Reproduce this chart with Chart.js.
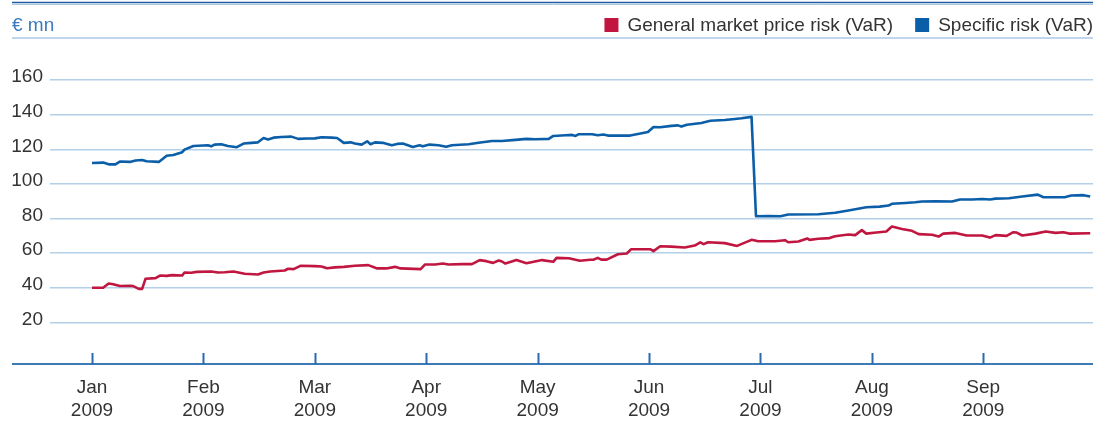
<!DOCTYPE html>
<html>
<head>
<meta charset="utf-8">
<script src="https://cdn.jsdelivr.net/npm/chart.js@4.4.0/dist/chart.umd.min.js"></script>
<style>
  html, body { margin: 0; padding: 0; background: #ffffff; }
  canvas { display: block; }
</style>
</head>
<body>
<canvas id="c" width="1105" height="423"></canvas>
<script>
// ---- data (x = position in months from start of January 2009) ----
const monthNames = ["Jan", "Feb", "Mar", "Apr", "May", "Jun", "Jul", "Aug", "Sep"];
const monthYears = ["2009", "2009", "2009", "2009", "2009", "2009", "2009", "2009", "2009"];
const yTickValues = [20, 40, 60, 80, 100, 120, 140, 160];
const unitLabel = "€ mn";
const seriesNames = ["General market price risk (VaR)", "Specific risk (VaR)"];

const generalX = [0.00,0.10,0.15,0.19,0.25,0.34,0.37,0.42,0.45,0.48,0.57,0.61,0.67,0.72,0.81,0.83,0.89,0.94,1.07,1.13,1.19,1.27,1.37,1.49,1.54,1.60,1.73,1.76,1.81,1.87,2.00,2.06,2.11,2.18,2.26,2.36,2.48,2.56,2.64,2.72,2.77,2.95,2.99,3.08,3.15,3.20,3.32,3.41,3.48,3.54,3.60,3.65,3.68,3.71,3.81,3.90,4.04,4.14,4.17,4.28,4.32,4.38,4.47,4.50,4.54,4.57,4.62,4.72,4.80,4.84,5.01,5.04,5.10,5.20,5.32,5.41,5.46,5.49,5.53,5.68,5.79,5.92,5.98,6.13,6.22,6.25,6.34,6.42,6.44,6.52,6.62,6.67,6.79,6.85,6.91,6.95,7.04,7.13,7.18,7.27,7.36,7.42,7.54,7.60,7.64,7.75,7.85,7.99,8.06,8.11,8.21,8.27,8.30,8.35,8.47,8.56,8.65,8.72,8.77,8.96];
const generalY = [40.0,40.0,42.5,42.1,41.0,41.2,41.0,39.4,39.4,45.2,45.6,47.1,46.9,47.3,47.1,48.8,48.7,49.2,49.4,48.8,49.0,49.4,48.1,47.7,48.8,49.4,50.0,51.0,50.8,52.7,52.5,52.3,51.3,51.8,52.1,52.7,53.1,51.2,51.2,52.1,51.2,50.8,53.5,53.5,54.0,53.5,53.7,53.7,56.0,55.4,54.4,55.8,55.2,54.0,56.0,54.2,56.0,55.0,57.3,57.1,56.5,55.6,56.2,56.2,57.3,56.3,56.3,59.4,59.8,62.3,62.3,61.2,64.0,63.8,63.3,64.4,66.2,65.2,66.3,65.8,64.2,67.7,66.9,66.9,67.5,66.3,66.7,68.5,67.7,68.3,68.7,69.8,70.8,70.4,73.3,71.3,71.9,72.5,75.4,74.0,72.9,71.0,70.6,69.6,71.3,71.7,70.2,70.2,69.0,70.4,70.0,72.1,71.9,70.2,71.3,72.5,71.7,72.1,71.3,71.5];

const specificX = [0.00,0.10,0.15,0.21,0.25,0.34,0.39,0.45,0.49,0.60,0.67,0.73,0.81,0.83,0.91,1.04,1.07,1.10,1.16,1.22,1.30,1.36,1.43,1.49,1.54,1.58,1.63,1.70,1.79,1.85,1.93,2.00,2.06,2.15,2.20,2.26,2.32,2.36,2.42,2.47,2.50,2.54,2.61,2.69,2.74,2.79,2.88,2.94,2.97,3.03,3.11,3.18,3.23,3.38,3.47,3.59,3.68,3.80,3.90,3.98,4.10,4.14,4.25,4.31,4.34,4.37,4.49,4.54,4.59,4.63,4.83,4.90,4.99,5.04,5.10,5.20,5.26,5.29,5.34,5.47,5.55,5.68,5.77,5.83,5.92,5.96,6.07,6.18,6.25,6.52,6.67,6.79,6.95,7.07,7.15,7.18,7.30,7.39,7.45,7.57,7.72,7.79,7.90,7.99,8.06,8.11,8.23,8.35,8.49,8.54,8.73,8.79,8.90,8.96];
const specificY = [112.1,112.3,111.3,111.3,112.9,112.7,113.5,113.8,113.1,112.7,116.3,116.7,118.3,119.8,121.9,122.3,121.7,122.7,122.9,121.9,121.2,123.3,123.7,124.0,126.5,125.6,126.7,127.1,127.3,126.0,126.2,126.3,126.9,126.7,126.5,123.7,124.0,123.3,122.7,124.6,122.9,124.0,123.7,122.3,123.1,123.3,121.3,122.3,121.7,122.7,122.3,121.5,122.3,122.9,123.8,124.8,124.8,125.4,126.0,125.8,126.0,127.7,128.1,128.3,127.7,128.7,128.7,128.1,128.5,127.9,127.9,128.8,130.0,132.9,132.7,133.5,133.8,133.1,134.2,135.2,136.5,136.9,137.5,137.9,138.7,81.3,81.5,81.3,82.3,82.5,83.3,84.6,86.5,86.9,87.5,88.5,89.0,89.4,89.8,90.0,89.8,91.0,91.0,91.3,91.0,91.5,91.7,92.7,93.8,92.3,92.3,93.3,93.5,92.7];

// ---- styling ----
const FONT = '"Liberation Sans", Arial, Helvetica, sans-serif';
const TEXT = '#333333';
const RED = '#c0163f';
const BLUE = '#0b5ea8';

function toPoints(xs, ys) { return xs.map((x, i) => ({ x: x, y: ys[i] })); }

const decor = {
  id: 'decor',
  afterDraw(chart) {
    const ctx = chart.ctx;
    const area = chart.chartArea;
    const xs = chart.scales.x;
    const L = 12, R = area.right;
    function hline(x1, x2, y, color, w) {
      ctx.beginPath(); ctx.strokeStyle = color; ctx.lineWidth = w;
      ctx.moveTo(x1, y); ctx.lineTo(x2, y); ctx.stroke();
    }
    ctx.save();
    // header rules
    hline(L, R, 2.5, '#1d5c9c', 1.5);
    hline(L, R, 4.5, '#a8c6e5', 1);
    hline(L, R, 38, '#a9c8e8', 1.5);
    // unit label
    ctx.font = '19px ' + FONT;
    ctx.textBaseline = 'alphabetic';
    ctx.textAlign = 'left';
    ctx.fillStyle = '#3a7bbf';
    ctx.fillText(unitLabel, 12, 31);
    // legend (right aligned)
    const ds = chart.data.datasets;
    let x = R;
    for (let i = ds.length - 1; i >= 0; i--) {
      const label = ds[i].label;
      const w = ctx.measureText(label).width;
      const tx = x - w;
      ctx.fillStyle = TEXT;
      ctx.fillText(label, tx, 31);
      const boxR = tx - 9;
      ctx.fillStyle = ds[i].borderColor;
      ctx.fillRect(boxR - 14, 18, 14, 14);
      x = boxR - 14 - 22;
    }
    // x axis baseline and upward ticks
    const yb = area.bottom;
    hline(L, R, yb, '#3d7ab6', 2);
    ctx.strokeStyle = '#2a6aad';
    ctx.lineWidth = 2;
    monthNames.forEach((m, i) => {
      const px = Math.round(xs.getPixelForValue(i)) + 0.5;
      ctx.beginPath(); ctx.moveTo(px, yb - 11); ctx.lineTo(px, yb); ctx.stroke();
    });
    ctx.restore();
  }
};

new Chart(document.getElementById('c'), {
  type: 'line',
  data: {
    datasets: [
      { label: seriesNames[0], data: toPoints(generalX, generalY), borderColor: RED, backgroundColor: RED,
        borderWidth: 2.6, pointRadius: 0, tension: 0, borderJoinStyle: 'round', fill: false },
      { label: seriesNames[1], data: toPoints(specificX, specificY), borderColor: BLUE, backgroundColor: BLUE,
        borderWidth: 2.6, pointRadius: 0, tension: 0, borderJoinStyle: 'round', fill: false }
    ]
  },
  options: {
    responsive: false,
    animation: false,
    devicePixelRatio: 1,
    layout: { padding: { top: 80, right: 12, left: 0, bottom: 0 } },
    plugins: { legend: { display: false }, tooltip: { enabled: false } },
    scales: {
      x: {
        type: 'linear',
        min: -0.377, max: 8.985,
        grid: { display: false, drawTicks: false },
        border: { display: false },
        afterBuildTicks: (s) => { s.ticks = monthNames.map((_, i) => ({ value: i })); },
        afterFit: (s) => { s.height = 59; },
        ticks: {
          autoSkip: false, maxRotation: 0, minRotation: 0, padding: 12,
          color: TEXT, font: { family: FONT, size: 19, lineHeight: 1.22 },
          callback: (v) => [monthNames[v], monthYears[v]]
        }
      },
      y: {
        min: -4, max: 160,
        grid: { color: '#b3d0ea', lineWidth: 1.5, drawTicks: false },
        border: { display: false },
        afterBuildTicks: (s) => { s.ticks = yTickValues.map(v => ({ value: v })); },
        afterFit: (s) => { s.width = 50; },
        ticks: { padding: 7, labelOffset: -3, color: TEXT, font: { family: FONT, size: 19 } }
      }
    }
  },
  plugins: [decor]
});
</script>
</body>
</html>
